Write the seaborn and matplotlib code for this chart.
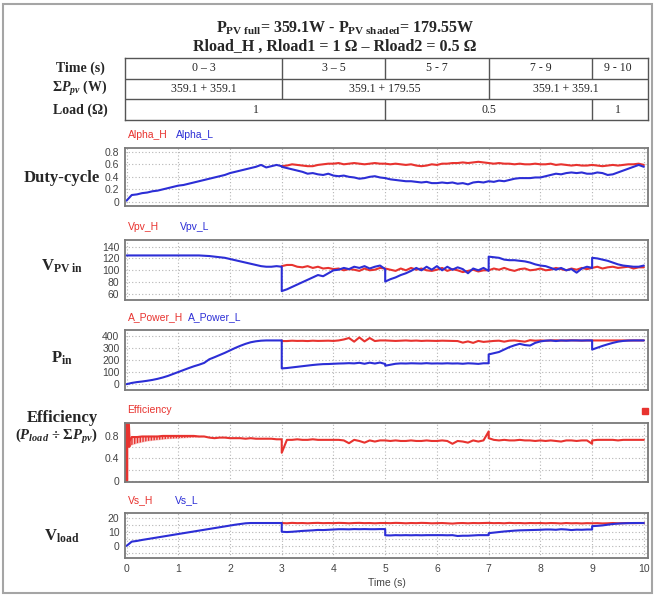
import numpy as np
import pandas as pd
import seaborn as sns
import matplotlib.pyplot as plt
from matplotlib.patches import Rectangle
from matplotlib.transforms import offset_copy

sns.set_theme(style='white')
plt.rcParams['font.family'] = ['Liberation Serif', 'DejaVu Serif']
plt.rcParams['mathtext.fontset'] = 'custom'
plt.rcParams['mathtext.rm'] = 'Liberation Serif'
plt.rcParams['mathtext.bf'] = 'Liberation Serif:bold'
plt.rcParams['mathtext.it'] = 'Liberation Serif:italic'
plt.rcParams['mathtext.bfit'] = 'Liberation Serif:bold:italic'

RED = '#e8332f'
BLUE = '#2c2ed6'
SANS = 'Liberation Sans'

# table on top
TIME_EDGES = [0, 3, 5, 7, 9, 10]
TIME_TEXT = ['0 – 3', '3 – 5', '5 - 7', '7 - 9', '9 - 10']
PV_EDGES = [0, 3, 7, 10]
PV_TEXT = ['359.1 + 359.1', '359.1 + 179.55', '359.1 + 359.1']
LOAD_EDGES = [0, 5, 9, 10]
LOAD_TEXT = ['1', '0.5', '1']

# sample times (s), step changes at 3, 5, 7, 9 are listed twice
T = [0.0, 0.1, 0.2, 0.3, 0.4, 0.5, 0.6, 0.7, 0.8, 0.9,
     1.0, 1.1, 1.2, 1.3, 1.4, 1.5, 1.6, 1.7, 1.8, 1.9,
     2.0, 2.1, 2.2, 2.3, 2.4, 2.5, 2.6, 2.7, 2.8, 2.9,
     3.0, 3.0, 3.1, 3.2, 3.3, 3.4, 3.5, 3.6, 3.7, 3.8, 3.9,
     4.0, 4.1, 4.2, 4.3, 4.4, 4.5, 4.6, 4.7, 4.8, 4.9,
     5.0, 5.0, 5.1, 5.2, 5.3, 5.4, 5.5, 5.6, 5.7, 5.8, 5.9,
     6.0, 6.1, 6.2, 6.3, 6.4, 6.5, 6.6, 6.7, 6.8, 6.9,
     7.0, 7.0, 7.1, 7.2, 7.3, 7.4, 7.5, 7.6, 7.7, 7.8, 7.9,
     8.0, 8.1, 8.2, 8.3, 8.4, 8.5, 8.6, 8.7, 8.8, 8.9,
     9.0, 9.0, 9.1, 9.2, 9.3, 9.4, 9.5, 9.6, 9.7, 9.8, 9.9,
     10.0]
T_H = T[30:]  # the _H traces only separate from _L after 3 s

ALPHA_L = [0.02, 0.11, 0.12, 0.14, 0.15, 0.17, 0.18, 0.20, 0.22, 0.24,
           0.26, 0.27, 0.29, 0.31, 0.33, 0.35, 0.37, 0.39, 0.41, 0.43,
           0.46, 0.48, 0.50, 0.52, 0.54, 0.56, 0.59, 0.55, 0.57, 0.59,
           0.57, 0.56, 0.54, 0.52, 0.50, 0.48, 0.45, 0.46, 0.44, 0.43, 0.45,
           0.42, 0.41, 0.42, 0.40, 0.39, 0.37, 0.38, 0.40, 0.41, 0.39,
           0.38, 0.38, 0.36, 0.35, 0.34, 0.33, 0.33, 0.32, 0.31, 0.32, 0.30,
           0.30, 0.31, 0.30, 0.31, 0.29, 0.30, 0.28, 0.31, 0.32, 0.31,
           0.33, 0.33, 0.32, 0.34, 0.33, 0.35, 0.37, 0.38, 0.38, 0.38, 0.39,
           0.39, 0.41, 0.43, 0.45, 0.44, 0.46, 0.47, 0.46, 0.47, 0.45,
           0.45, 0.45, 0.47, 0.46, 0.43, 0.44, 0.47, 0.50, 0.53, 0.56, 0.59,
           0.56]
ALPHA_H = [0.57, 0.57, 0.58, 0.60, 0.59, 0.58, 0.57, 0.57, 0.59, 0.60, 0.61,
           0.61, 0.62, 0.60, 0.61, 0.62, 0.61, 0.60, 0.61, 0.62, 0.61,
           0.61, 0.61, 0.60, 0.61, 0.60, 0.59, 0.60, 0.58, 0.57, 0.58, 0.60,
           0.59, 0.61, 0.61, 0.62, 0.62, 0.63, 0.62, 0.63, 0.64, 0.63,
           0.62, 0.62, 0.61, 0.62, 0.61, 0.61, 0.60, 0.61, 0.60, 0.60, 0.61,
           0.60, 0.60, 0.61, 0.59, 0.60, 0.59, 0.58, 0.59, 0.58, 0.58,
           0.59, 0.59, 0.58, 0.57, 0.58, 0.59, 0.58, 0.59, 0.60, 0.60, 0.61,
           0.59]

VPV_L = [125, 125, 125, 125, 125, 125, 125, 125, 125, 125,
         125, 125, 125, 125, 125, 124.5, 124, 123, 122, 121,
         119, 117, 115, 113, 111, 109, 107, 106, 106, 107,
         106, 65, 68, 72, 76, 80, 84, 88, 92, 90, 95,
         100, 101, 104, 102, 106, 104, 107, 103, 106, 108,
         102, 81, 85, 88, 92, 95, 99, 104, 100, 106, 101,
         107, 100, 106, 101, 105, 102, 95, 103, 100, 104,
         99, 123, 122, 121, 118, 117, 117, 116, 115, 113, 110,
         108, 107, 104, 101, 104, 100, 102, 96, 103, 106,
         104, 121, 120, 118, 116, 113, 110, 108, 107, 106, 106,
         108]
VPV_H = [106, 107, 109, 109, 106, 105, 107, 104, 106, 103, 104,
         102, 103, 100, 102, 101, 99, 103, 100, 101, 104,
         103, 103, 101, 99, 103, 100, 104, 101, 103, 100, 99,
         101, 104, 99, 102, 100, 97, 99, 101, 98, 100,
         100, 100, 103, 101, 104, 101, 99, 102, 103, 100, 101,
         103, 100, 101, 104, 102, 100, 103, 101, 104, 102,
         104, 104, 106, 103, 105, 106, 104, 105, 106, 103, 105,
         105]

PIN_L = [0, 10, 17, 22, 28, 35, 44, 55, 68, 84,
         100, 116, 132, 147, 160, 175, 205, 222, 240, 258,
         278, 298, 316, 332, 345, 353, 358, 360, 360, 360,
         360, 130, 133, 138, 143, 148, 153, 158, 162, 165, 166,
         168, 170, 171, 173, 171, 176, 168, 177, 170, 178,
         166, 152, 160, 168, 171, 170, 172, 171, 170, 173, 170,
         171, 170, 172, 170, 171, 168, 172, 170, 167, 172,
         172, 245, 255, 265, 285, 305, 320, 332, 322, 318, 340,
         352, 358, 360, 355, 360, 358, 360, 360, 359, 360,
         360, 285, 300, 315, 328, 340, 350, 356, 359, 360, 360,
         360]
PIN_H = [360, 355, 355, 358, 356, 357, 355, 358, 356, 357, 358,
         356, 360, 368, 380, 350, 385, 352, 380, 355, 360,
         360, 360, 358, 356, 358, 360, 357, 359, 356, 358, 357,
         356, 358, 357, 356, 355, 342, 352, 340, 356, 348,
         352, 352, 356, 358, 350, 358, 360, 355, 350, 362, 358,
         360, 358, 360, 361, 359, 360, 361, 360, 359, 360,
         360, 360, 360, 360, 360, 360, 360, 360, 360, 360, 360,
         360]

EFF = [0.62, 0.78, 0.78, 0.79, 0.79, 0.79, 0.79, 0.80, 0.80, 0.80,
       0.80, 0.80, 0.80, 0.80, 0.79, 0.79, 0.77, 0.76, 0.77, 0.77,
       0.76, 0.76, 0.76, 0.75, 0.76, 0.75, 0.75, 0.75, 0.75, 0.74,
       0.74, 0.50, 0.73, 0.73, 0.74, 0.73, 0.73, 0.74, 0.73, 0.73, 0.73,
       0.73, 0.73, 0.72, 0.67, 0.73, 0.71, 0.68, 0.72, 0.70, 0.72,
       0.72, 0.72, 0.71, 0.72, 0.71, 0.71, 0.72, 0.71, 0.71, 0.72, 0.71,
       0.71, 0.72, 0.71, 0.66, 0.71, 0.70, 0.68, 0.72, 0.70, 0.72,
       0.88, 0.76, 0.73, 0.72, 0.73, 0.72, 0.72, 0.73, 0.72, 0.72, 0.71,
       0.72, 0.71, 0.72, 0.71, 0.70, 0.72, 0.72, 0.71, 0.72, 0.72,
       0.66, 0.72, 0.73, 0.73, 0.73, 0.73, 0.72, 0.73, 0.73, 0.73, 0.73,
       0.73]
# start-up spike and ringing band of the efficiency trace
EFF_SPIKE_T = [0.0, 0.0, 0.03, 0.05]
EFF_SPIKE = [0.0, 1.05, 1.05, 0.62]
RING_T = [0.05, 0.1, 0.2, 0.3, 0.4, 0.5, 0.6, 0.8, 1.0, 1.2, 1.4, 1.5]
RING_LO = [0.62, 0.64, 0.67, 0.69, 0.71, 0.72, 0.73, 0.75, 0.76, 0.77, 0.78, 0.79]
RING_HI = [0.78, 0.79, 0.79, 0.79, 0.80, 0.80, 0.80, 0.80, 0.81, 0.81, 0.80, 0.80]

VS_L = [0.0, 3.0, 3.5, 4.2, 4.8, 5.4, 6.0, 6.6, 7.2, 7.8,
        8.4, 9.0, 9.6, 10.2, 10.8, 11.4, 12.0, 12.6, 13.2, 13.8,
        14.4, 15.0, 15.5, 16.0, 16.2, 16.2, 16.2, 16.2, 16.2, 16.2,
        16.2, 10.0, 9.8, 10.0, 10.3, 10.6, 10.8, 11.0, 11.3, 11.2, 11.4,
        11.6, 11.8, 11.8, 11.7, 11.9, 11.8, 11.9, 11.8, 11.8, 11.9,
        11.9, 7.5, 7.4, 7.6, 7.5, 7.6, 7.5, 7.6, 7.5, 7.6, 7.6,
        7.6, 7.6, 7.5, 7.6, 7.0, 7.2, 7.2, 7.4, 7.6, 7.6,
        7.6, 9.0, 9.4, 9.8, 10.2, 10.5, 10.8, 11.0, 11.1, 11.2, 11.3,
        11.4, 11.6, 11.6, 11.4, 11.8, 11.6, 11.2, 11.5, 11.4, 11.6,
        11.6, 14.0, 14.2, 14.5, 15.0, 15.5, 15.8, 16.0, 16.1, 16.2, 16.2,
        16.2]
VS_H = [16.2, 16.2, 16.0, 16.3, 16.1, 16.2, 16.0, 16.2, 16.3, 16.1, 16.2,
        16.1, 16.3, 16.2, 16.0, 16.2, 16.3, 16.1, 16.2, 16.0, 16.2,
        16.2, 16.2, 16.1, 16.3, 16.2, 16.0, 16.2, 16.1, 16.3, 16.2, 16.0,
        16.1, 16.2, 16.0, 15.8, 16.1, 16.2, 16.0, 16.2, 16.1, 16.2,
        16.3, 16.3, 16.1, 16.2, 16.0, 16.3, 16.1, 16.2, 16.0, 16.2, 16.1,
        16.2, 16.0, 16.2, 16.1, 15.9, 16.2, 16.0, 16.1, 15.9, 16.1,
        16.0, 16.0, 16.1, 15.9, 16.0, 16.2, 16.0, 16.1, 16.2, 16.1, 16.2,
        16.2]

W, H = 655, 596
fig = plt.figure(figsize=(W / 100, H / 100), dpi=100)
fig.add_artist(Rectangle((3 / W, 3 / H), 649 / W, 589 / H, transform=fig.transFigure,
                         fill=False, ec='#a5a5a5', lw=1.5))

X0, X1 = 125, 648
XLIM = (-0.03, 10.08)


def px_axes(top, bottom):
    return fig.add_axes([X0 / W, 1 - bottom / H, (X1 - X0) / W, (bottom - top) / H])


def line(ax, t, y, color, lw=1.5):
    sns.lineplot(x=t, y=y, ax=ax, color=color, lw=lw, estimator=None, sort=False, legend=False)


def style(ax, ylim, yticks, ylabels, bottom=False):
    ax.set_xlim(*XLIM)
    ax.set_ylim(*ylim)
    ax.set_xticks(range(0, 11))
    ax.set_yticks(yticks)
    ax.set_yticklabels(ylabels, family=SANS, fontsize=7.5, color='#444')
    if bottom:
        ax.set_xticklabels([str(i) for i in range(11)], family=SANS, fontsize=7.5, color='#444')
        ax.set_xlabel('Time (s)', family=SANS, fontsize=7.5, color='#444', labelpad=3)
    else:
        ax.set_xticklabels([])
        ax.set_xlabel('')
    ax.set_ylabel('')
    ax.grid(True, ls=(0, (1, 2)), color='#b5b5b5', lw=0.8)
    ax.tick_params(length=0, pad=4)
    for s in ax.spines.values():
        s.set_color('#7a7a7a')
        s.set_linewidth(1.3)


def tags(ax, names, colors, xs):
    tr = offset_copy(ax.transAxes, fig=fig, y=8, units='dots')
    for n, c, x in zip(names, colors, xs):
        ax.text(x, 1.0, n, transform=tr, color=c, fontsize=7.5, family=SANS, va='bottom')


# ---- table ----
tax = px_axes(58, 120)
tax.set_xlim(*XLIM)
tax.set_ylim(3, 0)
tax.set_xticks([])
tax.set_yticks([])
for s in tax.spines.values():
    s.set_color('#555')
    s.set_linewidth(1.0)
tax.axhline(1, color='#555', lw=1.0)
tax.axhline(2, color='#555', lw=1.0)
for row, (edges, texts) in enumerate([(TIME_EDGES, TIME_TEXT), (PV_EDGES, PV_TEXT),
                                      (LOAD_EDGES, LOAD_TEXT)]):
    tax.vlines(edges[1:-1], row, row + 1, color='#555', lw=1.0)
    for a, b, s in zip(edges[:-1], edges[1:], texts):
        tax.text((a + b) / 2, row + 0.5, s, ha='center', va='center', fontsize=8.5)

fig.text(345 / W, 1 - 28 / H, r'P$_{\mathbf{PV\ full}}$= 359.1W - P$_{\mathbf{PV\ shaded}}$= 179.55W',
         ha='center', va='center', fontsize=11.5, fontweight='bold')
fig.text(335 / W, 1 - 47 / H, 'Rload_H , Rload1 = 1 Ω – Rload2 = 0.5 Ω',
         ha='center', va='center', fontsize=11.5, fontweight='bold')

RX = 80 / W
fig.text(RX, 1 - 68 / H, 'Time (s)', ha='center', va='center', fontsize=10, fontweight='bold')
fig.text(RX, 1 - 89 / H, r'Σ$\mathbfit{P}_{\mathbfit{pv}}$ (W)', ha='center', va='center',
         fontsize=10, fontweight='bold')
fig.text(RX, 1 - 110 / H, 'Load (Ω)', ha='center', va='center', fontsize=10, fontweight='bold')

# ---- panels ----
LX = 62 / W
ax1 = px_axes(148, 206)
line(ax1, T_H, ALPHA_H, RED)
line(ax1, T, ALPHA_L, BLUE)
style(ax1, (-0.065, 0.86), [0, 0.2, 0.4, 0.6, 0.8], ['0', '0.2', '0.4', '0.6', '0.8'])
tags(ax1, ['Alpha_H', 'Alpha_L'], [RED, BLUE], [0.005, 0.097])
fig.text(LX, 1 - 178 / H, 'Duty-cycle', ha='center', va='center', fontsize=12, fontweight='bold')

ax2 = px_axes(240, 300)
line(ax2, T_H, VPV_H, RED)
line(ax2, T, VPV_L, BLUE)
style(ax2, (50, 151), [60, 80, 100, 120, 140], ['60', '80', '100', '120', '140'])
tags(ax2, ['Vpv_H', 'Vpv_L'], [RED, BLUE], [0.005, 0.105])
fig.text(LX, 1 - 266 / H, r'V$_{\mathbf{PV\ in}}$', ha='center', va='center', fontsize=12,
         fontweight='bold')

ax3 = px_axes(330, 390)
line(ax3, T_H, PIN_H, RED)
line(ax3, T, PIN_L, BLUE)
style(ax3, (-48, 446), [0, 100, 200, 300, 400], ['0', '100', '200', '300', '400'])
tags(ax3, ['A_Power_H', 'A_Power_L'], [RED, BLUE], [0.005, 0.12])
fig.text(LX, 1 - 358 / H, r'P$_{\mathbf{in}}$', ha='center', va='center', fontsize=12,
         fontweight='bold')

ax4 = px_axes(423, 482)
ax4.fill_between(RING_T, RING_LO, RING_HI, color=RED, alpha=0.3, lw=0)
ax4.fill_between(RING_T, RING_LO, RING_HI, facecolor='none', edgecolor=RED, hatch='||||||', lw=0)
line(ax4, EFF_SPIKE_T, EFF_SPIKE, RED, lw=2.5)
line(ax4, T, EFF, RED)
style(ax4, (-0.02, 1.03), [0, 0.2, 0.4, 0.6, 0.8], ['0', '', '0.4', '', '0.8'])
tags(ax4, ['Efficiency'], [RED], [0.005])
ax4.plot([0.994], [1.0], 's', color=RED, ms=4, clip_on=False,
         transform=offset_copy(ax4.transAxes, fig=fig, y=12, units='dots'))
fig.text(LX, 1 - 418 / H, 'Efficiency', ha='center', va='center', fontsize=12, fontweight='bold')
fig.text(56 / W, 1 - 436 / H, r'($\mathbfit{P}_{\mathbfit{load}}$ ÷ Σ$\mathbfit{P}_{\mathbfit{pv}}$)',
         ha='center', va='center', fontsize=10.5, fontweight='bold')

ax5 = px_axes(513, 558)
line(ax5, T_H, VS_H, RED)
line(ax5, T, VS_L, BLUE)
style(ax5, (-8.6, 23.3), [-5, 0, 5, 10, 15, 20], ['', '0', '', '10', '', '20'], bottom=True)
tags(ax5, ['Vs_H', 'Vs_L'], [RED, BLUE], [0.005, 0.095])
fig.text(LX, 1 - 536 / H, r'V$_{\mathbf{load}}$', ha='center', va='center', fontsize=12,
         fontweight='bold')

fig.savefig('out.png', dpi=100)
